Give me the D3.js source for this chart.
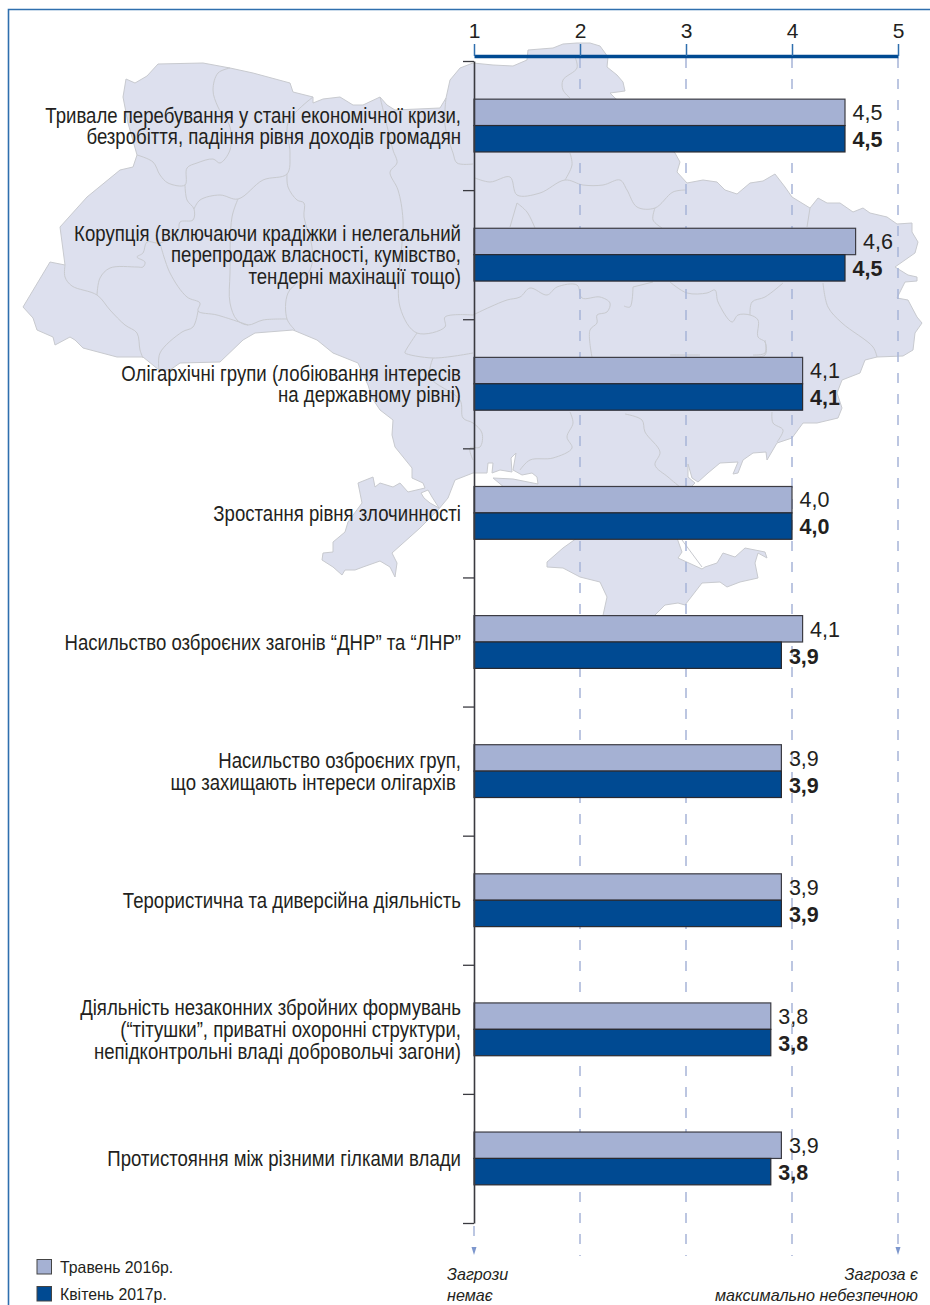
<!DOCTYPE html>
<html>
<head>
<meta charset="utf-8">
<script src="https://cdnjs.cloudflare.com/ajax/libs/d3/7.8.5/d3.min.js"></script>
<style>
	html, body { margin: 0; padding: 0; background: #fff; }
	svg { display: block; }
	text { font-family: "Liberation Sans", Arial, sans-serif; fill: #231f20; }
</style>
</head>
<body>
<div id="chart"></div>
<script>
// Chart data
var categories = [
	['Тривале перебування у стані економічної кризи,', 'безробіття, падіння рівня доходів громадян'],
	['Корупція (включаючи крадіжки і нелегальний', 'перепродаж власності, кумівство,', 'тендерні махінації тощо)'],
	['Олігархічні групи (лобіювання інтересів', 'на державному рівні)'],
	['Зростання рівня злочинності'],
	['Насильство озброєних загонів “ДНР” та “ЛНР”'],
	['Насильство озброєних груп,', 'що захищають інтереси олігархів\u00a0'],
	['Терористична та диверсійна діяльність'],
	['Діяльність незаконних збройних формувань', '(“тітушки”, приватні охоронні структури,', 'непідконтрольні владі добровольчі загони)'],
	['Протистояння між різними гілками влади']
];
var may2016 = [4.5, 4.6, 4.1, 4.0, 4.1, 3.9, 3.9, 3.8, 3.9];
var april2017 = [4.5, 4.5, 4.1, 4.0, 3.9, 3.9, 3.9, 3.8, 3.8];
var seriesNames = ['Травень 2016р.', 'Квітень 2017р.'];
var tickLabels = [1, 2, 3, 4, 5];

// Background map
var mapOutline = [[126,79],[135,83],[147,76],[158,64],[203,63],[230,68],[253,73],[290,83],[293,92],[313,97],[313,103],[323,99],[340,97],[353,105],[363,105],[380,97],[387,105],[395,110],[440,108],[446,98],[450,80],[460,68],[473,63],[493,65],[513,66],[527,60],[528,50],[553,48],[563,44],[577,43],[590,43],[600,46],[608,57],[607,67],[617,75],[623,82],[625,91],[610,93],[615,98],[640,120],[675,153],[680,162],[677,172],[687,183],[703,180],[717,182],[725,190],[737,194],[750,183],[763,181],[775,174],[785,187],[792,197],[810,208],[818,198],[827,203],[840,203],[853,212],[863,208],[870,213],[887,217],[897,224],[912,223],[912,232],[918,242],[915,253],[895,267],[908,275],[917,277],[917,281],[905,282],[897,298],[908,300],[917,317],[922,323],[915,333],[913,350],[903,356],[877,357],[865,360],[860,373],[842,380],[837,393],[842,408],[838,418],[817,423],[803,423],[792,438],[777,443],[767,460],[766,452],[753,453],[743,460],[738,473],[733,474],[738,462],[720,463],[708,473],[698,482],[692,478],[688,464],[688,477],[695,483],[690,488],[505,488],[493,478],[513,479],[538,484],[537,477],[532,473],[522,475],[513,470],[516,453],[511,458],[512,472],[500,470],[492,473],[493,463],[488,463],[487,473],[473,473],[455,480],[448,498],[438,510],[420,528],[392,553],[397,563],[395,577],[390,567],[380,561],[363,567],[355,570],[345,570],[342,575],[333,567],[322,560],[323,553],[333,552],[333,542],[345,532],[348,522],[362,503],[358,483],[373,477],[375,487],[380,483],[393,487],[400,483],[408,492],[425,488],[423,483],[412,478],[412,468],[395,447],[392,435],[393,420],[380,410],[372,398],[368,385],[358,363],[333,353],[317,340],[293,330],[255,333],[243,340],[220,362],[180,363],[170,370],[159,370],[143,357],[117,357],[83,348],[75,340],[70,337],[55,345],[53,337],[37,330],[33,318],[23,307],[50,262],[65,265],[60,227],[87,197],[120,170],[133,167],[137,155],[128,123],[123,97]];
var mapCrimea = [[577,538],[563,548],[547,562],[547,567],[563,568],[580,577],[600,582],[607,597],[602,620],[650,620],[665,605],[678,603],[685,605],[702,583],[720,582],[727,587],[740,582],[758,578],[755,563],[758,553],[767,558],[765,552],[745,548],[735,557],[723,553],[717,563],[705,567],[702,569],[678,558],[682,552],[677,538]];
var mapLiman = [[421,493],[428,490],[432,497],[439,508],[430,503],[424,498]];
var mapBorders = [
	[[230,68],[218,73],[213,90],[218,107],[230,127],[230,150],[220,163],[213,159],[197,163],[187,168],[185,185],[168,183],[160,175],[153,162],[137,155]],
	[[185,185],[187,200],[194,209],[193,220],[180,222],[178,232],[160,243],[147,242],[143,253],[137,257],[145,262],[143,267],[137,267],[110,268],[100,278],[97,295]],
	[[65,265],[65,277],[72,286],[97,295],[110,310],[125,325],[137,333],[140,350],[143,358]],
	[[194,209],[200,200],[220,195],[238,199],[263,180],[287,174],[290,153],[288,123],[313,97]],
	[[238,199],[232,217],[230,273],[230,303],[237,320],[248,325],[263,320],[287,319]],
	[[287,174],[288,187],[297,200],[304,203],[304,217],[312,247],[310,270],[288,293],[287,319],[295,330]],
	[[160,243],[170,273],[187,297],[200,303],[198,311],[217,315],[248,325]],
	[[198,311],[193,327],[182,332],[160,353],[159,370]],
	[[380,97],[388,130],[393,150],[397,163],[390,172],[398,190],[403,220],[400,307],[417,333],[445,327],[445,317],[473,315]],
	[[417,333],[405,352],[405,353],[433,358],[473,353]],
	[[433,358],[430,377],[460,400],[463,418],[473,423],[482,433],[480,447],[470,448],[473,460]],
	[[446,98],[445,125],[453,153],[457,163],[473,164]],
	[[475,178],[490,182],[510,177],[517,195],[540,193],[565,180],[583,185],[603,185],[620,180],[627,190],[637,207],[655,208],[673,192],[686,190]],
	[[655,208],[653,220],[662,228]],
	[[633,287],[630,307],[624,306]],
	[[633,287],[653,282]],
	[[670,282],[687,293],[707,293],[715,290],[718,302],[732,322],[738,315],[750,315],[758,320],[758,337],[765,342],[765,355],[750,357]],
	[[750,315],[752,302],[765,297],[783,283]],
	[[823,283],[828,307],[842,323],[873,347],[877,357]],
	[[810,208],[807,227]],
	[[575,57],[577,68],[563,80],[563,90],[570,98]],
	[[570,153],[572,165],[565,180]],
	[[517,203],[510,227]],
	[[517,203],[527,212],[535,228]],
	[[473,315],[490,307],[507,300],[520,297],[530,288],[547,295],[557,287],[577,285],[582,298],[600,297],[610,303],[607,312],[597,315],[597,323],[590,330],[592,357]],
	[[570,412],[573,423],[567,437],[572,448],[553,458],[530,460],[520,470]],
	[[625,414],[642,420],[645,432],[660,452],[655,465],[668,477],[680,487]],
	[[772,412],[773,423],[783,430],[777,442]],
	[[670,355],[687,355],[700,355]],
	[[753,355],[765,353],[765,340]],
	[[682,540],[702,567]]
];

var width = 930, height = 1305;
var svg = d3.select('#chart').append('svg').attr('width', width).attr('height', height);

var x = d3.scaleLinear().domain([1, 5]).range([474, 898]);
var y = d3.scaleBand().domain(d3.range(categories.length)).range([61, 1223]);
var barH = 26.4;

// No condensed font on the machine, so squeeze the regular one sideways
function squeezedText(parent, str, px, py, size, squeeze, anchor){
	return parent.append('text')
		.attr('transform', 'translate(' + px + ',' + py + ') scale(' + squeeze + ',1)')
		.attr('text-anchor', anchor)
		.attr('font-size', size)
		.text(str);
}

// Map in the background
var shapeLine = d3.line().curve(d3.curveLinearClosed);
var borderLine = d3.line().curve(d3.curveCatmullRom);
var map = svg.append('g').attr('fill', '#dde0ee').attr('stroke', '#c8cacf').attr('stroke-width', 1);
map.append('path').attr('d', shapeLine(mapOutline));
map.append('path').attr('d', shapeLine(mapCrimea));
map.append('path').attr('d', shapeLine(mapLiman)).attr('fill', '#fff');
map.selectAll('path.border').data(mapBorders).enter().append('path')
	.attr('class', 'border')
	.attr('fill', 'none')
	.attr('d', borderLine);

// Frame
svg.append('path')
	.attr('d', 'M930,9.5H8.5V1305')
	.attr('fill', 'none')
	.attr('stroke', '#2f6fae')
	.attr('stroke-width', 1.6);

// Dashed grid, runs past the bars down to the captions
svg.selectAll('line.grid').data(tickLabels).enter().append('line')
	.attr('class', 'grid')
	.attr('x1', function(d){ return x(d); })
	.attr('x2', function(d){ return x(d); })
	.attr('y1', function(d){ return d == 1 ? 1226 : 58; })
	.attr('y2', function(d){ return (d == 1 || d == 5) ? 1246 : 1256; })
	.attr('stroke', '#a6b4d8')
	.attr('stroke-width', 1.5)
	.attr('stroke-dasharray', '10 11');

// Arrows under the scale ends
svg.selectAll('path.arrow').data([1, 5]).enter().append('path')
	.attr('class', 'arrow')
	.attr('d', function(d){ return 'M' + (x(d) - 2.5) + ',1247L' + (x(d) + 2.5) + ',1247L' + x(d) + ',1255Z'; })
	.attr('fill', '#7d97cd');

// Bars
var rows = svg.selectAll('g.row').data(categories).enter().append('g')
	.attr('class', 'row')
	.attr('transform', function(d, i){ return 'translate(0,' + (y(i) + y.bandwidth() / 2) + ')'; });

rows.append('rect')
	.attr('x', x(1))
	.attr('y', -barH)
	.attr('width', function(d, i){ return x(may2016[i]) - x(1); })
	.attr('height', barH)
	.attr('fill', '#a5b1d3')
	.attr('stroke', '#3c3c44')
	.attr('stroke-width', 1.2);

rows.append('rect')
	.attr('x', x(1))
	.attr('y', 0)
	.attr('width', function(d, i){ return x(april2017[i]) - x(1); })
	.attr('height', barH)
	.attr('fill', '#004a92')
	.attr('stroke', '#2a2a30')
	.attr('stroke-width', 1.2);

// Value labels
rows.append('text')
	.attr('x', function(d, i){ return x(may2016[i]) + 7.5; })
	.attr('y', -5.5)
	.attr('font-size', 21.5)
	.text(function(d, i){ return may2016[i].toFixed(1).replace('.', ','); });

rows.append('text')
	.attr('x', function(d, i){ return x(april2017[i]) + 7.5; })
	.attr('y', 21.5)
	.attr('font-size', 21.5)
	.attr('font-weight', 'bold')
	.text(function(d, i){ return april2017[i].toFixed(1).replace('.', ','); });

// Category labels, right aligned
rows.each(function(lines){
	var g = d3.select(this);
	lines.forEach(function(line, j){
		squeezedText(g, line, 461, 7.8 + (j - (lines.length - 1) / 2) * 21.7, 21.5, 0.865, 'end');
	});
});

// Left axis, ticks sit between the groups
var leftScale = d3.scaleLinear().domain([0, categories.length]).range([61, 1223]);
var leftAxis = svg.append('g')
	.attr('transform', 'translate(' + x(1) + ',0)')
	.call(d3.axisLeft(leftScale).tickValues(d3.range(categories.length + 1)).tickSize(11).tickSizeOuter(0).tickFormat(''));
leftAxis.select('.domain').attr('stroke', '#3a3a40').attr('stroke-width', 1.6);
leftAxis.selectAll('.tick line').attr('stroke', '#3a3a40').attr('stroke-width', 1.3);

// Top scale
var topAxis = svg.append('g')
	.attr('transform', 'translate(0,56)')
	.call(d3.axisTop(x).tickValues(tickLabels).tickSize(12).tickSizeOuter(0).tickFormat(d3.format('d')));
topAxis.select('.domain').attr('stroke', '#004a92').attr('stroke-width', 3.6);
topAxis.selectAll('.tick line').attr('stroke', '#2f6fae').attr('stroke-width', 1.5);
topAxis.selectAll('.tick text')
	.attr('y', -18)
	.attr('dy', 0)
	.attr('font-size', 21)
	.style('font-family', '"Liberation Sans", Arial, sans-serif')
	.style('fill', '#231f20');

// Legend
var legendColors = ['#a5b1d3', '#004a92'];
var legendY = [1259.5, 1286.5];
seriesNames.forEach(function(name, i){
	svg.append('rect')
		.attr('x', 37)
		.attr('y', legendY[i])
		.attr('width', 14.5)
		.attr('height', 14.5)
		.attr('fill', legendColors[i])
		.attr('stroke', '#444')
		.attr('stroke-width', 1);
	squeezedText(svg, name, 60, legendY[i] + 13.5, 16.5, 0.96, 'start');
});

// Scale end captions
[['Загрози', 'немає'], ['Загроза є', 'максимально небезпечною']].forEach(function(lines, i){
	lines.forEach(function(line, j){
		squeezedText(svg, line, i == 0 ? 447 : 918, 1280 + j * 20.7, 17, 0.95, i == 0 ? 'start' : 'end')
			.attr('font-style', 'italic');
	});
});
</script>
</body>
</html>
